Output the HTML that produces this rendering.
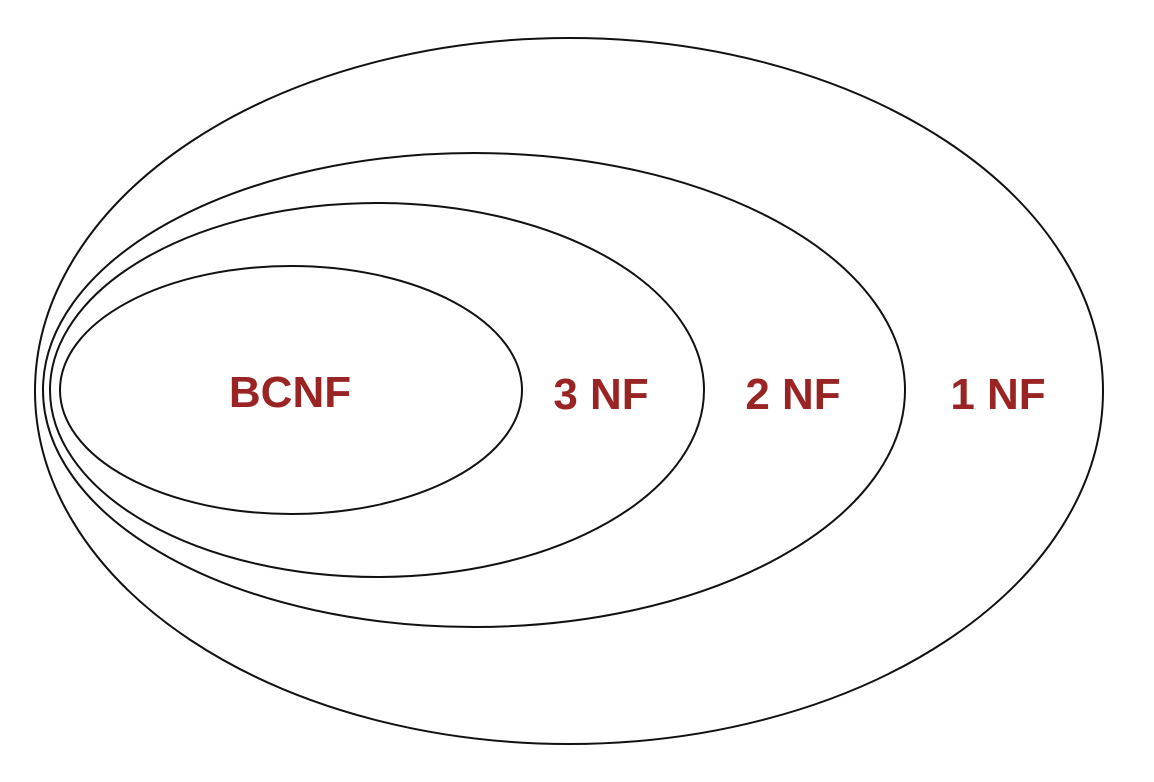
<!DOCTYPE html>
<html><head><meta charset="utf-8"><style>
html,body{margin:0;padding:0;background:#fff;}
svg{display:block;}
text{font-family:"Liberation Sans",Arial,sans-serif;font-weight:bold;font-size:44px;fill:#9a2424;}
</style></head><body>
<svg width="1154" height="782" viewBox="0 0 1154 782" xmlns="http://www.w3.org/2000/svg">
<g fill="none" stroke="#111" stroke-width="2">
<ellipse cx="569" cy="391" rx="534" ry="353"/>
<ellipse cx="474" cy="390" rx="431" ry="237"/>
<ellipse cx="377" cy="390" rx="327" ry="187"/>
<ellipse cx="291" cy="390" rx="231" ry="124"/>
</g>
<text x="290" y="407" text-anchor="middle">BCNF</text>
<text x="601" y="409" text-anchor="middle">3 NF</text>
<text x="793" y="409" text-anchor="middle">2 NF</text>
<text x="998" y="409" text-anchor="middle">1 NF</text>
</svg>
</body></html>
